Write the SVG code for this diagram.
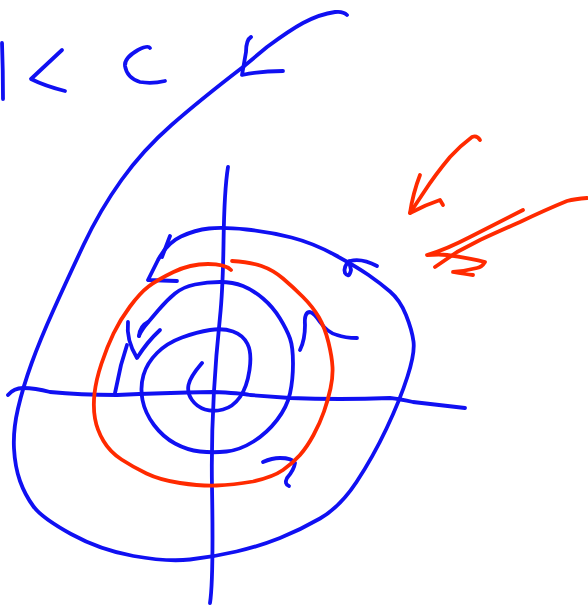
<svg xmlns="http://www.w3.org/2000/svg" width="588" height="607" viewBox="0 0 588 607">
<style>
.b{fill:none;stroke:#1010f2;stroke-width:3.8;stroke-linecap:round;stroke-linejoin:round}
.r{fill:none;stroke:#ff2a00;stroke-width:3.8;stroke-linecap:round;stroke-linejoin:round}
</style>
<rect width="588" height="607" fill="#ffffff"/>
<g id="top-marks">
<path class="b" d="M2,43 Q3,70 3,99"/>
<path class="b" d="M62,50 L31,79 Q45,86 65,91"/>
<path class="b" d="M150,48 Q148,45 138,50 Q124,58 125,66 Q127,78 140,82 Q152,84 165,81"/>
<path class="b" d="M251,37 Q246,40 246,52 L242,75 Q260,71 283,71"/>
</g>
<g id="outer-spiral">
<path class="b" d="M347,15 Q343,11 335,12 Q320,14 303,23 Q290,30 267,47 L243,67 Q200,100 171.5,125 Q143,150 121.5,180 Q100,210 83.5,245 Q67,280 53.5,310 Q40,340 31.5,363.5 Q23,387 18,408.5 Q13,430 14,448.5 Q15,467 20,481 Q25,495 33.5,506.5 Q42,518 71,534 Q100,550 133.5,556 Q167,562 190,559.5 Q213,557 236.5,551.5 Q260,546 280,538 Q300,530 320,518.5 Q340,507 356.5,482 Q373,457 386.5,428.5 Q400,400 407.5,376.5 Q415,353 413.5,341.5 Q412,330 406,315 Q400,300 390,291.5 Q380,283 368.5,275 Q357,267 335,255 Q313,243 291.5,237.5 Q270,232 246.5,229.5 Q223,227 209,228.5 Q195,230 181,236.5 Q167,243 158,260 L148,280 L177,281"/>
<path class="b" d="M170,236 L162,257"/>
<path class="b" d="M377,266 Q362,258 350,261 Q343,266 345,273 Q349,279 351,270 L349,261"/>
</g>
<g id="axes">
<path class="b" d="M228,167 C221,210 226,260 220,317 S211,430 212,487 S212,590 210,603"/>
<path class="b" d="M8,395 Q14,388 23,388 Q35,388 50,392 Q80,395 117,395 Q160,393 213,392 Q240,393 250,395 L290,398 Q340,400 390,398 Q400,399 413,402 L465,408"/>
</g>
<g id="inner-spiral">
<path class="b" d="M202,363 Q190,377 188.5,385 Q187,393 192,400 Q197,407 205,409.5 Q213,412 223,409.5 Q233,407 240,397 Q247,387 249.5,370 Q252,353 247.5,344 Q243,335 233,331.5 Q223,328 210,330 Q197,332 182,337.5 Q167,343 157,353 Q147,363 143.5,375 Q140,387 142.5,400 Q145,413 154,425 Q163,437 175,443.5 Q187,450 200,451.5 Q213,453 226.5,451.5 Q240,450 253.5,441.5 Q267,433 277,420 Q287,407 290,393.5 Q293,380 293,363.5 Q293,347 290,338.5 Q287,330 280,318.5 Q273,307 263,298.5 Q253,290 243,286 Q233,282 220,282 Q207,282 195,284.5 Q183,287 175,293.5 Q167,300 158.5,310 Q150,320 145,326 Q140,333 139,336"/>
<path class="b" d="M115,393 L121,365 L127,345"/>
<path class="b" d="M128,322 Q126,340 137,358 Q147,342 160,330"/>
<path class="b" d="M139,336 Q140,326 148,322"/>
<path class="b" d="M300,350 Q305,340 305,325 Q304,312 310,312 Q314,313 320,322 Q328,333 337,335 Q345,338 357,338"/>
<path class="b" d="M263,462 Q272,458 280,458 Q292,458 295,463 Q294,470 287,478 Q284,484 289,486"/>
</g>
<g id="red-ring">
<path class="r" d="M232,261 Q250,262 261.5,266 Q273,270 283,278.5 Q293,287 303,297 Q313,307 319,317.5 Q325,328 328.5,342.5 Q332,357 332.5,367 Q333,377 330.5,388.5 Q328,400 324,411.5 Q320,423 313.5,435 Q307,447 300,455 Q293,463 283,470 Q273,477 253,481.5 Q233,485 216.5,485.5 Q200,486 180,483 Q160,480 146.5,473.5 Q133,467 121.5,459.5 Q110,452 103.5,441 Q97,430 95,418.5 Q93,407 94.5,393.5 Q96,380 101.5,363.5 Q107,347 113.5,333.5 Q120,320 130,306.5 Q140,293 148.5,286.5 Q157,280 173.5,272 Q190,264 208,264 Q225,264 231,270"/>
</g>
<g id="red-arrows">
<path class="r" d="M480,140 Q477,135 472,137 Q460,146 450,157 Q435,175 424,192 L410,213"/>
<path class="r" d="M420,175 Q413,193 410,213 Q425,205 440,200 L443,205"/>
<path class="r" d="M587,198 Q575,199 567,201 Q545,210 520,222 Q495,233 480,240 L457,252 L435,267"/>
<path class="r" d="M523,210 L470,237 Q445,250 427,255 Q440,254 447,255 Q470,258 485,262 Q482,267 477,268 Q465,271 453,272 Q465,274 473,275"/>
</g>
</svg>
